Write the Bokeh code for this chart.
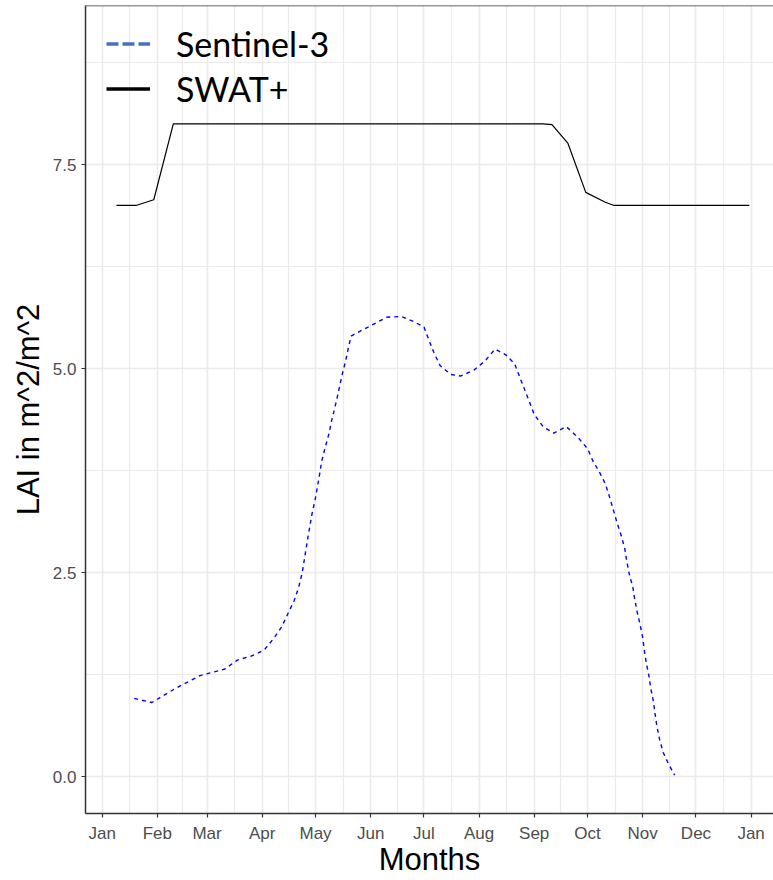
from bokeh.plotting import figure
from bokeh.models import FixedTicker, Range1d, Legend, LegendItem, Span
from bokeh.embed import file_html
from bokeh.resources import INLINE

# Month tick positions (day of year) and their labels
month_doy = [0, 31, 59, 90, 120, 151, 181, 212, 243, 273, 304, 334, 365]
month_labels = ["Jan", "Feb", "Mar", "Apr", "May", "Jun", "Jul",
                "Aug", "Sep", "Oct", "Nov", "Dec", "Jan"]

lai_ticks = [0.0, 2.5, 5.0, 7.5]
lai_tick_labels = ["0.0", "2.5", "5.0", "7.5"]

# Sentinel-3 leaf area index (day of year, LAI)
s3_doy = [18, 28, 34, 41, 48, 55, 62, 69, 76, 84, 91, 97, 101, 104.5, 108,
          110.5, 112.5, 114.5, 116, 118, 120, 122, 123.5, 125.5, 127.5, 129,
          130.5, 132, 133.5, 135, 137, 138.5, 140, 146, 154, 160, 168, 175,
          181, 184, 186.5, 190, 196, 201.5, 209, 215.5, 221, 227, 232, 235,
          237.5, 240, 243, 248, 254, 261, 267.5, 273, 276, 280, 283, 285.5,
          287.5, 289.5, 292, 294, 295, 296.5, 298.5, 299.5, 301, 302.5, 304,
          305, 306, 307.5, 308.5, 310, 311, 312, 313.5, 315.5, 318.5, 322]
s3_lai = [0.96, 0.91, 0.99, 1.08, 1.16, 1.24, 1.28, 1.32, 1.43, 1.48, 1.55,
          1.71, 1.84, 2.00, 2.16, 2.32, 2.50, 2.77, 2.97, 3.22, 3.42, 3.67,
          3.87, 4.04, 4.20, 4.36, 4.49, 4.63, 4.78, 4.93, 5.10, 5.26, 5.40,
          5.47, 5.56, 5.63, 5.64, 5.58, 5.51, 5.34, 5.20, 5.04, 4.93, 4.91,
          4.98, 5.10, 5.24, 5.17, 5.06, 4.89, 4.75, 4.61, 4.44, 4.29, 4.21,
          4.29, 4.16, 4.02, 3.87, 3.72, 3.59, 3.42, 3.27, 3.12, 2.95, 2.79,
          2.65, 2.48, 2.32, 2.18, 2.01, 1.87, 1.71, 1.54, 1.40, 1.24, 1.09,
          0.93, 0.77, 0.62, 0.46, 0.30, 0.16, 0.02]

# SWAT+ simulated leaf area index
swat_doy = [8, 19, 29, 40, 248, 253, 262, 272, 283, 288, 364]
swat_lai = [7.0, 7.0, 7.07, 8.0, 8.0, 7.99, 7.76, 7.16, 7.04, 7.0, 7.0]

GRID = "#EBEBEB"
DARK = "#333333"
TICK_TXT = "#4D4D4D"

p = figure(width=773, height=880, output_backend="svg", toolbar_location=None,
           x_range=Range1d(-9.4, 377.6), y_range=Range1d(-0.45, 9.45),
           min_border_left=85, min_border_right=0, min_border_top=5,
           min_border_bottom=67)
p.background_fill_color = "white"
p.border_fill_color = "white"
p.outline_line_color = None

# Month axis with mid-month minor grid lines
mid_month = [(a + b) / 2 for a, b in zip(month_doy[:-1], month_doy[1:])]
p.xaxis.ticker = FixedTicker(ticks=month_doy, minor_ticks=mid_month)
p.xaxis.major_label_overrides = {d: lab for d, lab in zip(month_doy, month_labels)}
p.yaxis.ticker = FixedTicker(ticks=lai_ticks,
                             minor_ticks=[1.25, 3.75, 6.25, 8.75])
p.yaxis.major_label_overrides = {t: lab for t, lab in zip(lai_ticks, lai_tick_labels)}

for ax in (p.xaxis, p.yaxis):
    ax.axis_line_color = DARK
    ax.axis_line_width = 1.5
    ax.major_tick_line_color = DARK
    ax.major_tick_line_width = 1.2
    ax.major_tick_in = 0
    ax.major_tick_out = 4
    ax.minor_tick_line_color = None
    ax.major_label_text_font = "Liberation Sans"
    ax.major_label_text_font_size = "17px"
    ax.major_label_text_color = TICK_TXT
    ax.axis_label_text_font = "Liberation Sans"
    ax.axis_label_text_font_style = "normal"
    ax.axis_label_text_color = "black"
    ax.axis_label_text_font_size = "31px"

p.xaxis.axis_label = "Months"
p.yaxis.axis_label = "LAI in m^2/m^2"
p.xaxis.major_label_standoff = 6
p.yaxis.major_label_standoff = 5
p.xaxis.axis_label_standoff = -4
p.yaxis.axis_label_standoff = 4

for g in (p.xgrid, p.ygrid):
    g.grid_line_color = GRID
    g.grid_line_width = 1.6
    g.minor_grid_line_color = GRID
    g.minor_grid_line_width = 1.2

# top panel border
p.add_layout(Span(location=9.45, dimension="width", line_color=DARK,
                  line_width=1.5))

p.line(swat_doy, swat_lai, line_color="black", line_width=1.2)
p.line(s3_doy, s3_lai, line_color="#0000FF", line_width=1.4, line_dash="4 4")

# legend keys (a single undrawn NaN point so the key styles resolve)
nan = float("nan")
key_s3 = p.line([nan], [nan], line_color="#4472C4", line_width=3.5,
                line_dash="12 4")
key_sw = p.line([nan], [nan], line_color="black", line_width=3.5)

legend = Legend(items=[LegendItem(label="Sentinel-3", renderers=[key_s3]),
                       LegendItem(label="SWAT+", renderers=[key_sw])],
                location=(21, 702), glyph_width=44, glyph_height=45,
                label_height=45, label_standoff=26, spacing=0, padding=0,
                margin=0, border_line_color=None, background_fill_alpha=0,
                label_text_font="Lato", label_text_font_size="34px",
                label_text_color="black")
p.add_layout(legend)

open("out.html", "w").write(file_html(p, INLINE))
